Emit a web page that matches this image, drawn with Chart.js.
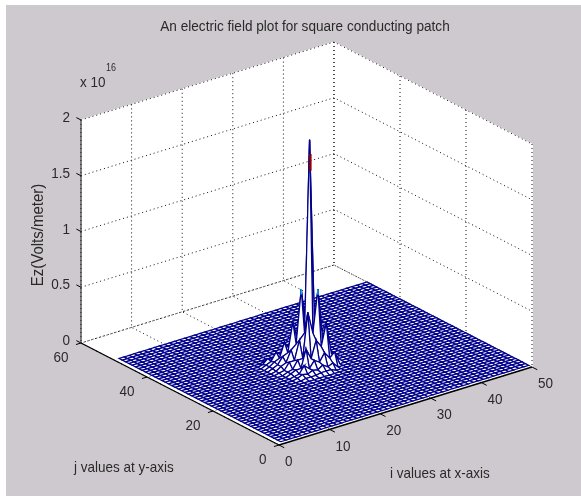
<!DOCTYPE html>
<html>
<head>
<meta charset="utf-8">
<style>
  html, body { margin: 0; padding: 0; background: #fff; }
  canvas { display: block; }
</style>
<script src="https://cdn.jsdelivr.net/npm/chart.js@4/dist/chart.umd.min.js"></script>
</head>
<body>
<canvas id="myChart" width="581" height="496"></canvas>
<script>
const iTicks = [0, 10, 20, 30, 40, 50];
const jTicks = [0, 20, 40, 60];
const zTicks = [0, 0.5, 1, 1.5, 2];
const zTickLabels = ['0', '0.5', '1', '1.5', '2'];

// mesh runs 1..50 each way, Ez is flat at 0 outside the table below
const meshSize = 50;
const peakI = [17, 18, 19, 20, 21, 22, 23, 24, 25, 26, 27, 28, 29];
const peakJ = [20, 21, 22, 23, 24, 25, 26, 27, 28, 29, 30, 31, 32];
// Ez in units of 1e16, one row per peakJ, one column per peakI
const peakEz = [
  [0, 0, 0, 0, 0, 0, 0, 0, 0, 0, 0, 0, 0],
  [0, 0, .01, .01, .01, .02, .02, .02, 0, 0, 0, 0, 0],
  [0, .01, .03, .02, .04, .03, .06, .03, .05, 0, 0, 0, 0],
  [0, .01, .02, .08, .04, .10, .07, .14, .08, .12, 0, 0, 0],
  [0, .02, .04, .04, .20, .10, .25, .18, .38, .09, .05, 0, 0],
  [0, .02, .03, .10, .10, .50, .30, .68, .18, .14, .03, 0, 0],
  [.01, .02, .08, .08, .25, .30, 2.02, .30, .24, .06, .04, 0, 0],
  [.01, .04, .06, .16, .20, .68, .30, .50, .10, .08, .02, 0, 0],
  [.02, .04, .10, .12, .38, .20, .25, .10, .20, .04, .03, 0, 0],
  [.02, .05, .07, .20, .12, .14, .08, .10, .04, .06, .02, 0, 0],
  [.02, .04, .11, .07, .08, .04, .06, .03, .04, .02, 0, 0, 0],
  [.01, .05, .03, .03, .02, .03, .02, .02, .01, 0, 0, 0, 0],
  [0, .01, .01, .01, .01, .01, .01, 0, 0, 0, 0, 0, 0],
];

const MESH = '#00008c';
const FONT = '"Liberation Sans", Arial, sans-serif';
const TEXT = '#2a2a2a';

// 3d view: i, j, Ez to the flat x/y scales of the chart
const project = (i, j, z) => ({
  x: 279 + 5.06 * i - 3.3 * j,
  y: 445 - 1.56 * i - 1.7 * j - 111.5 * z,
});

const ez = (i, j) => {
  const row = peakEz[peakJ.indexOf(j)];
  const v = row ? row[peakI.indexOf(i)] : 0;
  return v || 0;
};

const path = (pts, color, extra) => ({
  data: pts.map(p => project(p[0], p[1], p[2])),
  borderColor: color,
  borderWidth: 1,
  pointRadius: 0,
  showLine: true,
  fill: false,
  clip: false,
  ...extra,
});

const dotted = pts => path(pts, '#111', {borderDash: [1, 3]});

// Chart.js paints the first dataset last, so nearest things go first
const datasets = [];

// axis lines and ticks
datasets.push(path([[0, 0, 0], [50, 0, 0]], '#000', {borderWidth: 1.4}));
datasets.push(path([[0, 0, 0], [0, 60, 0]], '#000', {borderWidth: 1.4}));
datasets.push(path([[0, 60, 0], [0, 60, 2]], '#333', {borderWidth: 1.2}));
iTicks.forEach(i => datasets.push(path([[i, 0, 0], [i, -1.6, 0]], '#000')));
jTicks.forEach(j => datasets.push(path([[0, j, 0], [-1, j, 0]], '#000')));
zTicks.forEach(z => datasets.push(path([[0, 60, z], [0, 61.4, z]], '#000')));

// the few coloured bits near the tips
datasets.push(path([[23.15, 26, 1.89], [23.15, 26, 1.74]], '#8c0000', {borderWidth: 2.5}));
datasets.push(path([[22, 27, .68], [22, 27, .63]], '#10b4f0', {borderWidth: 1.5}));
datasets.push(path([[24, 25, .68], [24, 25, .63]], '#10b4f0', {borderWidth: 1.5}));

// mesh cells, white faces hide what is behind
for (let i = 1; i < meshSize; i++) {
  for (let j = 1; j < meshSize; j++) {
    datasets.push(path([
      [i, j, ez(i, j)],
      [i + 1, j, ez(i + 1, j)],
      [i + 1, j + 1, ez(i + 1, j + 1)],
      [i, j + 1, ez(i, j + 1)],
      [i, j, ez(i, j)],
    ], MESH, {fill: 'shape', backgroundColor: '#fff', borderWidth: 1.25}));
  }
}

// grid on the back walls and floor
zTicks.forEach(z => datasets.push(dotted([[0, 60, z], [50, 60, z], [50, 0, z]])));
iTicks.forEach(i => datasets.push(dotted([[i, 60, 2], [i, 60, 0], [i, 0, 0]])));
jTicks.forEach(j => datasets.push(dotted([[50, j, 2], [50, j, 0], [0, j, 0]])));

// white box behind everything
datasets.push(path([[0, 60, 2], [50, 60, 2], [50, 0, 2], [50, 0, 0], [0, 0, 0], [0, 60, 0], [0, 60, 2]], '#fff', {
  fill: 'shape',
  backgroundColor: '#fff',
}));

const figure = {
  id: 'figure',
  beforeDraw(chart) {
    const {ctx} = chart;
    ctx.save();
    ctx.fillStyle = '#cec9ce';
    ctx.fillRect(6, 5, 575, 491);
    ctx.restore();
  },
  afterDraw(chart) {
    const {ctx, scales} = chart;
    // the original text is a bit stretched upward, hence the scale
    const put = (text, x, y, align, size) => {
      ctx.save();
      ctx.translate(x, y);
      ctx.scale(1, 1.12);
      ctx.font = `${size}px ${FONT}`;
      ctx.textAlign = align;
      ctx.fillText(text, 0, 0);
      ctx.restore();
    };
    const at = (i, j, z) => {
      const p = project(i, j, z);
      return [scales.x.getPixelForValue(p.x), scales.y.getPixelForValue(p.y)];
    };
    ctx.save();
    ctx.fillStyle = TEXT;
    ctx.textBaseline = 'middle';
    iTicks.forEach(i => {
      const [x, y] = at(i, 0, 0);
      put(String(i), x + 6, y + 17, 'left', 13.5);
    });
    jTicks.forEach(j => {
      const [x, y] = at(0, j, 0);
      put(String(j), x - 12.5, y + 15, 'right', 13.5);
    });
    zTicks.forEach((z, n) => {
      const [x, y] = at(0, 60, z);
      put(zTickLabels[n], x - 11, y - 2, 'right', 13.5);
    });
    put('An electric field plot for square conducting patch', 305, 27, 'center', 13.6);
    put('x 10', 80, 83, 'left', 13.5);
    put('16', 106, 68, 'left', 9);
    put('j values at y-axis', 74, 468, 'left', 13.5);
    put('i values at x-axis', 390, 474, 'left', 13.5);
    ctx.translate(38, 235);
    ctx.rotate(-Math.PI / 2);
    put('Ez(Volts/meter)', 0, 0, 'center', 15);
    ctx.restore();
  },
};

new Chart(document.getElementById('myChart').getContext('2d'), {
  type: 'scatter',
  data: {datasets},
  plugins: [figure],
  options: {
    responsive: false,
    animation: false,
    events: [],
    layout: {padding: 0},
    scales: {
      x: {type: 'linear', min: 0, max: 581, display: false},
      y: {type: 'linear', min: 0, max: 496, reverse: true, display: false},
    },
    plugins: {
      legend: {display: false},
      tooltip: {enabled: false},
    },
  },
});
</script>
</body>
</html>
